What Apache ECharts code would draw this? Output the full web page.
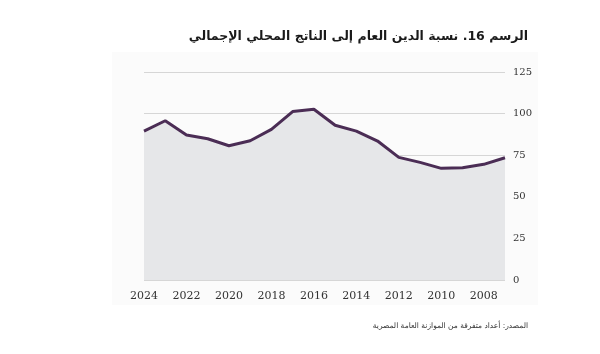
<!DOCTYPE html>
<html>
<head>
<meta charset="utf-8">
<script src="https://cdn.jsdelivr.net/npm/echarts@6/dist/echarts.min.js"></script>
<style>
  html, body { margin: 0; padding: 0; background: #fff; }
  #chart { width: 600px; height: 354px; }
</style>
</head>
<body>
<div id="chart"></div>
<script>
// years, newest first (axis runs right-to-left in time)
const years = ['2024', '2023', '2022', '2021', '2020', '2019', '2018', '2017', '2016',
  '2015', '2014', '2013', '2012', '2011', '2010', '2009', '2008', '2007'];
// public debt to GDP ratio, %
const debtRatio = [89.5, 95.7, 87.1, 84.9, 80.7, 83.7, 90.5, 101.2, 102.6,
  93.0, 89.5, 83.5, 73.7, 70.7, 67.1, 67.5, 69.5, 73.5];
const yTicks = [0, 25, 50, 75, 100, 125];

const titleText = 'الرسم 16. نسبة الدين العام إلى الناتج المحلي الإجمالي';
const sourceText = 'المصدر: أعداد متفرقة من الموازنة العامة المصرية';

const chart = echarts.init(document.getElementById('chart'));

const option = {
  animation: false,
  backgroundColor: '#ffffff',
  graphic: [
    {
      type: 'rect',
      shape: { x: 112, y: 52, width: 426, height: 253 },
      style: { fill: '#fbfbfb' },
      z: -10
    },
    {
      type: 'text',
      right: 72,
      top: 30,
      style: {
        text: titleText,
        font: 'bold 12.5px "DejaVu Sans", "Noto Sans", sans-serif',
        fill: '#1a1a1a',
        textAlign: 'right'
      }
    },
    {
      type: 'text',
      right: 72,
      top: 322,
      style: {
        text: sourceText,
        font: '7.5px "DejaVu Sans", "Noto Sans", sans-serif',
        fill: '#333',
        textAlign: 'right'
      }
    }
  ],
  grid: {
    left: 144,
    right: 95,
    top: 72,
    bottom: 74
  },
  xAxis: {
    type: 'category',
    data: years,
    boundaryGap: false,
    axisLine: { show: false },
    axisTick: { show: false },
    axisLabel: {
      interval: 1,
      margin: 11,
      color: '#333',
      fontSize: 11,
      fontFamily: '"DejaVu Serif", "Liberation Serif", serif'
    }
  },
  yAxis: {
    type: 'value',
    position: 'right',
    min: yTicks[0],
    max: yTicks[yTicks.length - 1],
    interval: 25,
    axisLine: { show: false },
    axisTick: { show: false },
    axisLabel: {
      margin: 8,
      color: '#333',
      fontSize: 10,
      fontFamily: '"DejaVu Serif", "Liberation Serif", serif'
    },
    splitLine: { lineStyle: { color: '#d6d6d6', width: 1 } }
  },
  series: [
    {
      type: 'line',
      data: debtRatio,
      symbol: 'none',
      lineStyle: { color: '#4b2d55', width: 3 },
      areaStyle: { color: '#e6e7e9', opacity: 1 },
      z: 2
    }
  ]
};

chart.setOption(option);
</script>
</body>
</html>
